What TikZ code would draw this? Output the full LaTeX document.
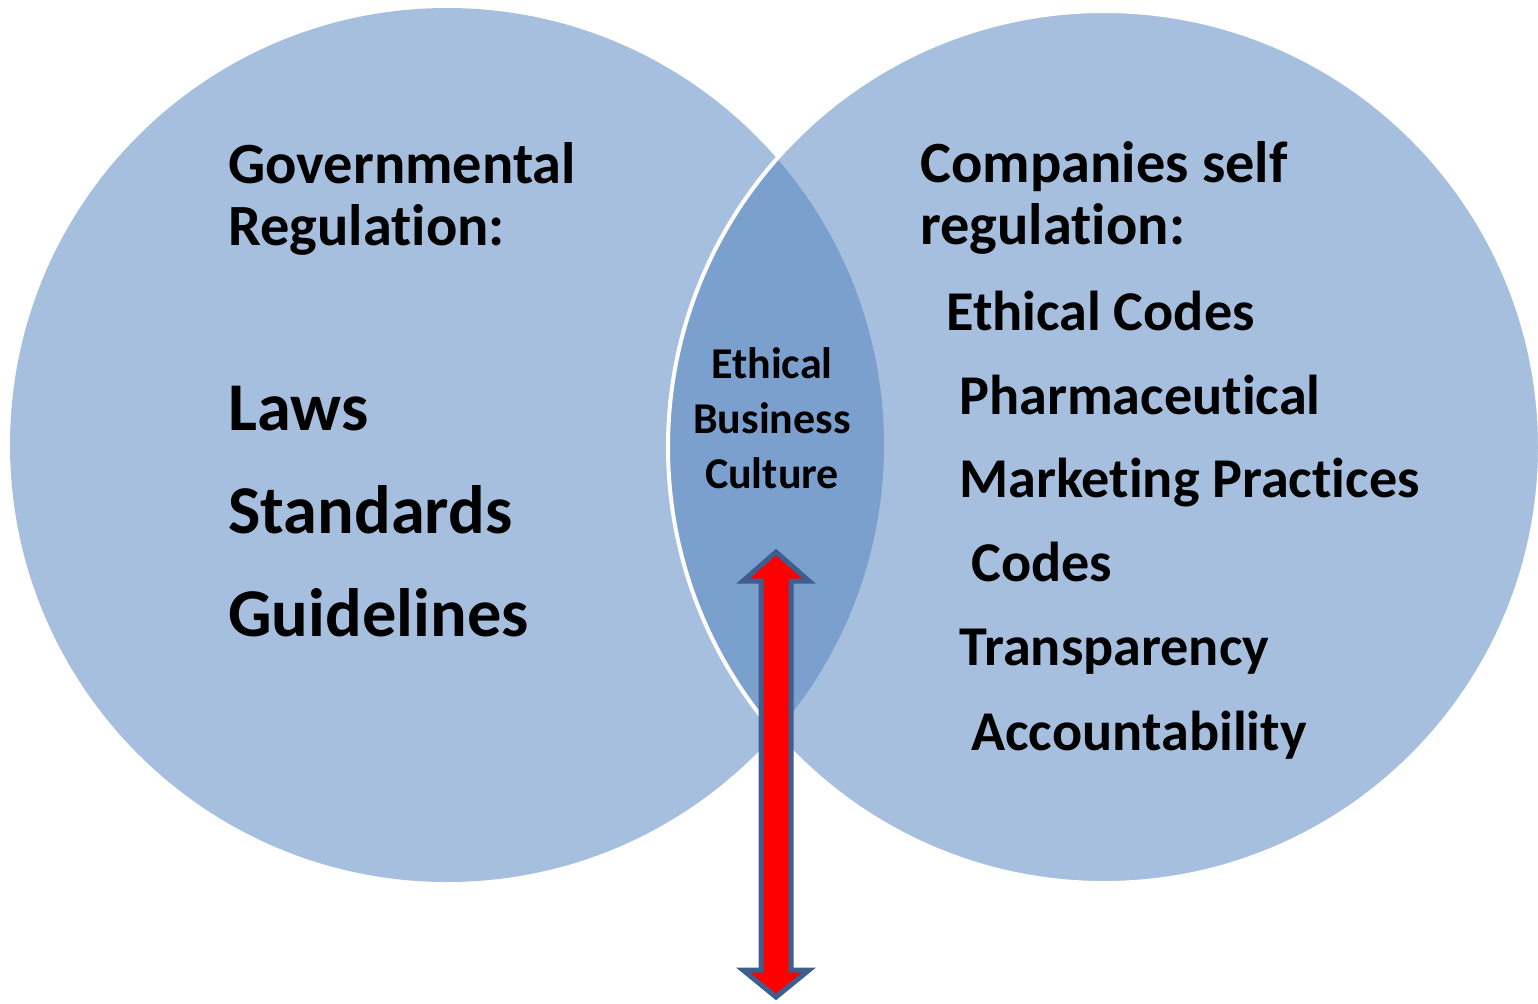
\documentclass[tikz,border=0pt]{standalone}
\usepackage{fontspec}
\setmainfont{Carlito}[Ligatures={NoCommon,NoContextual}]
\usepackage{xcolor}
\usepackage{tikz}
\usetikzlibrary{positioning,calc}

\definecolor{ringblue}{HTML}{A7BFDE}
\definecolor{lensblue}{HTML}{7BA0CD}
\definecolor{arrowedge}{HTML}{3C5F8E}

\begin{document}
\begin{tikzpicture}[
    x=0.5pt, y=-0.5pt,
    ring/.style     = {fill=ringblue, draw=none},
    lens/.style     = {fill=lensblue, draw=none},
    rim/.style      = {draw=white, line width=2pt},
    head/.style     = {anchor=base west, inner sep=0pt, font=\bfseries\fontsize{29.2}{31}\selectfont},
    govitem/.style  = {anchor=base west, inner sep=0pt, font=\bfseries\fontsize{34.2}{36}\selectfont},
    selfitem/.style = {anchor=base west, inner sep=0pt, font=\bfseries\fontsize{28.1}{30}\selectfont},
    core/.style     = {anchor=base, inner sep=0pt, font=\bfseries\fontsize{22}{24}\selectfont},
    fatarrow/.style = {fill=red, draw=arrowedge, line width=2.5pt, line join=miter},
]
\useasboundingbox (0,0) rectangle (1538,1003);

% =============================== circles ===============================
\coordinate (govC)  at (447,445);
\coordinate (selfC) at (1104,447);
\fill[ring] (govC)  circle[radius=218.5pt];
\fill[ring] (selfC) circle[radius=218pt];
% overlap of the two circles
\begin{scope}
  \clip (govC) circle[radius=218.5pt];
  \fill[lens] (selfC) circle[radius=218pt];
\end{scope}
\draw[rim] (selfC) circle[radius=218pt];

% =============================== left text =============================
\node[head] (govHead1) at (228,183) {Governmental};
\node[head] (govHead2) at (228,245) {Regulation:};
\foreach \t/\y [count=\i] in {Laws/430, Standards/533, Guidelines/636} {
    \node[govitem] (gov\i) at (228,\y) {\t};
}

% =============================== right text ============================
\node[head] (selfHead1) at (920,182) {Companies self};
\node[head] (selfHead2) at (920,244) {regulation:};
\foreach \t/\x/\y [count=\i] in {Ethical Codes/946/330, Pharmaceutical/959/414,
        Marketing Practices/959/497, Codes/971/581, Transparency/959/665,
        Accountability/971/750} {
    \node[selfitem] (self\i) at (\x,\y) {\t};
}

% =============================== overlap text ==========================
\node[core] (core1) at (772,378) {Ethical};
\node[core] (core2) at (772,433) {Business};
\node[core] (core3) at (772,488) {Culture};

% red double arrow
\coordinate (arrTop) at (776,552);
\draw[fatarrow] (arrTop) -- ++(33,29) -- ++(-18,0) -- ++(0,389) -- ++(18,0)
    -- ++(-33,27) -- ++(-33,-27) -- ++(18,0) -- ++(0,-389) -- ++(-18,0) -- cycle;

\end{tikzpicture}
\end{document}
